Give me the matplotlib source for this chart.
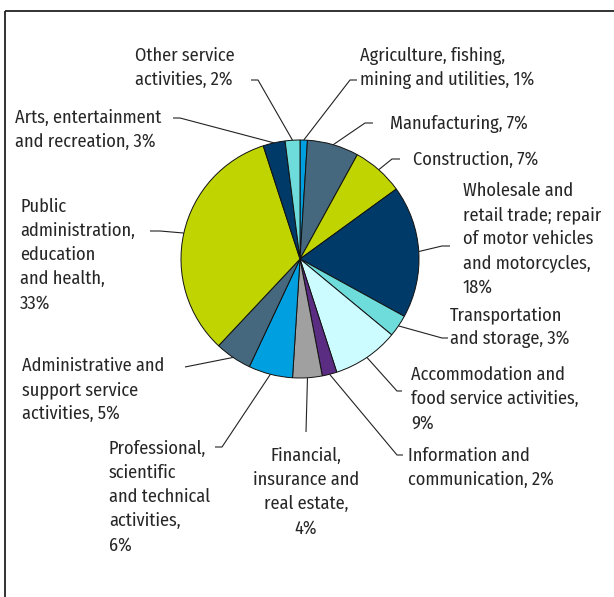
import numpy as np
import matplotlib
matplotlib.use("Agg")
import matplotlib.pyplot as plt
from matplotlib.patches import Rectangle

plt.rcParams['font.family'] = ['Fira Sans Condensed', 'Roboto Condensed', 'DejaVu Sans']

# employment share by sector, clockwise from 12 o'clock
sectors = [
    "Agriculture, fishing,\nmining and utilities, 1%",
    "Manufacturing, 7%",
    "Construction, 7%",
    "Wholesale and\nretail trade; repair\nof motor vehicles\nand motorcycles,\n18%",
    "Transportation\nand storage, 3%",
    "Accommodation and\nfood service activities,\n9%",
    "Information and\ncommunication, 2%",
    "Financial,\ninsurance and\nreal estate,\n4%",
    "Professional,\nscientific\nand technical\nactivities,\n6%",
    "Administrative and\nsupport service\nactivities, 5%",
    "Public\nadministration,\neducation\nand health,\n33%",
    "Arts, entertainment\nand recreation, 3%",
    "Other service\nactivities, 2%",
]
shares = [1, 7, 7, 18, 3, 9, 2, 4, 6, 5, 33, 3, 2]
colors = ["#00a0e0", "#46687e", "#bfd400", "#003a68", "#6fdcdc", "#ccfcff",
          "#5a2d82", "#a0a0a0", "#00a0e0", "#46687e", "#bfd400", "#003a68",
          "#6fdcdc"]

# label layout in pixels: text anchor x, text centre y, alignment,
# leader elbow (x, y) and end of the short horizontal tick (None = no tick)
label_x = [360, 390, 413, 463, 450, 411, 408, 306, 109, 22, 20, 15, 135]
label_y = [68, 124, 160, 239, 327, 399, 468, 492, 497, 390, 255, 130, 68]
label_ha = ["left"] * 7 + ["center"] + ["left"] * 5
elbow = [(350, 80), (365, 123), (392, 159), (442, 246), (442, 338),
         (397, 391), (397, 455), (306, 432), (222, 447), (185, 367),
         (160, 231), (180, 118), (258, 80)]
tick_end = [357, 373, 400, 450, 448, 402, 403, None, 215, None, 150, 173, 251]

W, H = 614, 597
cx, cy, r = 300, 259, 119

fig = plt.figure(figsize=(W / 100, H / 100), dpi=100)
ax = fig.add_axes([0, 0, 1, 1])
ax.set_xlim(0, W)
ax.set_ylim(H, 0)
ax.set_aspect('equal')
ax.axis('off')

# outer frame (runs off the right and bottom edges)
ax.add_patch(Rectangle((4.5, 11), 800, 800, fill=False, edgecolor='#222222',
                       linewidth=1.3))

ax.pie(shares, colors=colors, center=(cx, cy), radius=r, startangle=270,
       counterclock=True, normalize=True,
       wedgeprops=dict(edgecolor='#111111', linewidth=0.7))
ax.set_xlim(0, W)
ax.set_ylim(H, 0)

cum = np.cumsum([0] + shares[:-1])
mids = (cum + np.array(shares) / 2) / sum(shares) * 360  # degrees clockwise from top

for i, name in enumerate(sectors):
    a = np.deg2rad(mids[i])
    px, py = cx + r * np.sin(a), cy - r * np.cos(a)
    ex, ey = elbow[i]
    xs, ys = [px, ex], [py, ey]
    if tick_end[i] is not None:
        xs.append(tick_end[i])
        ys.append(ey)
    ax.plot(xs, ys, color='#222222', linewidth=0.8, solid_capstyle='butt')
    ax.text(label_x[i], label_y[i], name, ha=label_ha[i], va='center',
            multialignment=label_ha[i], fontsize=13.2, color='#262626',
            linespacing=1.45)

fig.savefig("out.png", dpi=100)
